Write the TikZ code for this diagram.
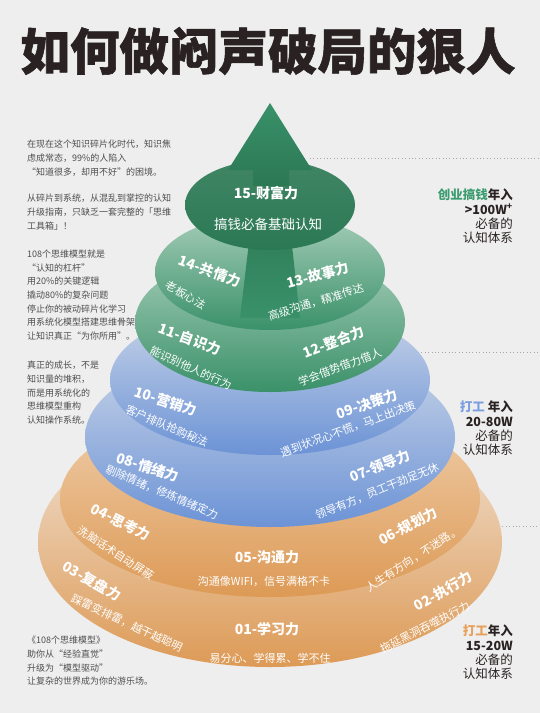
\documentclass[tikz,border=0pt]{standalone}
\usepackage{fontspec}
\newfontfamily\cjk{Noto Sans CJK SC}
\newfontfamily\cjkheavy{Noto Sans CJK SC}[BoldFeatures={FakeBold=1.2}]
\usetikzlibrary{positioning}

\definecolor{bgc}{HTML}{EEEEEE}
\definecolor{ink}{HTML}{2A2222}
\definecolor{txtg}{HTML}{4E4E4E}
\definecolor{grnD}{HTML}{2B7854}
\definecolor{grnM}{HTML}{3A9169}
\definecolor{grnL}{HTML}{A6CDB9}
\definecolor{bluM}{HTML}{6C93D6}
\definecolor{bluL}{HTML}{CBD6E8}
\definecolor{orgM}{HTML}{DD9A56}
\definecolor{orgL}{HTML}{F0D0AE}
\definecolor{orgP}{HTML}{F1E5D9}
\definecolor{labG}{HTML}{3C9C70}
\definecolor{labB}{HTML}{7B9EE0}
\definecolor{labO}{HTML}{E8A059}

\tikzset{
  note/.style={font=\cjk\fontsize{9}{13.6}\selectfont, text=txtg, align=left,
    anchor=north west, inner sep=0pt},
  tagbox/.style={font=\cjk\bfseries\fontsize{12.5}{14.2}\selectfont, text=ink,
    align=right, anchor=north east, inner sep=0pt},
  lvl/.style={font=\cjk\bfseries\fontsize{14}{14}\selectfont, text=white, inner sep=0pt},
  sub/.style={font=\cjk\fontsize{11}{11}\selectfont, text=white, inner sep=0pt},
  dotline/.style={gray!70, line width=0.8pt, dash pattern=on 0.8pt off 2.6pt},
}

\begin{document}
\begin{tikzpicture}[x=1pt, y=-1pt]
\useasboundingbox[fill=bgc] (0,0) rectangle (540,713);

% title
\node[font=\cjkheavy\bfseries\fontsize{49.5}{49.5}\selectfont, text=ink] (title) at (268,51) {如何做闷声破局的狠人};

% left notes
\node[note] (intro) at (27,140) {在现在这个知识碎片化时代，知识焦\\虑成常态，99\%的人陷入\\“知道很多，却用不好”的困境。};
\node[note] (guide) at (27,194) {从碎片到系统，从混乱到掌控的认知\\升级指南，只缺乏一套完整的「思维\\工具箱」！};
\node[note] (lever) at (27,250) {108个思维模型就是\\“认知的杠杆”\\用20\%的关键逻辑\\撬动80\%的复杂问题\\停止你的被动碎片化学习\\用系统化模型搭建思维骨架\\让知识真正“为你所用”。};
\node[note] (growth) at (27,361) {真正的成长，不是\\知识量的堆积，\\而是用系统化的\\思维模型重构\\认知操作系统。};
\node[note] (book) at (27,636) {《108个思维模型》\\助你从“经验直觉”\\升级为“模型驱动”\\让复杂的世界成为你的游乐场。};

% dotted guides
\coordinate (g1a) at (310,158); \coordinate (g1b) at (540,158);
\coordinate (g2a) at (384,352); \coordinate (g2b) at (540,352);
\coordinate (g3a) at (482,526); \coordinate (g3b) at (540,526);
\draw[dotline] (g1a) -- (g1b);
\draw[dotline] (g2a) -- (g2b);
\draw[dotline] (g3a) -- (g3b);

% right tags
\node[tagbox] (boss) at (513,189) {\textcolor{labG}{创业搞钱}年入\\>100W\textsuperscript{+}\\{\mdseries 必备的}\\{\mdseries 认知体系}};
\node[tagbox] (staffhi) at (513,401) {\textcolor{labB}{打工} 年入\\20-80W\\{\mdseries 必备的}\\{\mdseries 认知体系}};
\node[tagbox] (stafflo) at (513,625) {\textcolor{labO}{打工}年入\\15-20W\\{\mdseries 必备的}\\{\mdseries 认知体系}};

% discs, bottom to top
\shade[top color=orgP, middle color=orgL, bottom color=orgM] (270,542) ellipse [x radius=232pt, y radius=125pt];
\foreach \cy/\rx/\ry/\tc/\bc in {499/210/98/orgL/orgM,
    437/185/90/bluL/bluM, 380/160/75/bluL/bluM, 322/135/70/grnL/grnM, 272/115/58/grnL/grnM}
  \shade[top color=\tc, middle color=\tc!45!\bc, bottom color=\bc]
    (270,\cy) ellipse [x radius=\rx pt, y radius=\ry pt];

% arrow shaft between discs
\shade[top color=grnD, bottom color=grnM] (254,200) -- (287,200) -- (300,318) -- (240,318) -- cycle;
\shade[top color=grnD!90!white, bottom color=grnD] (270,205) ellipse [x radius=85pt, y radius=45pt];
% arrow head
\shade[top color=grnM, bottom color=grnD] (270,103) -- (312,170) -- (289,170) -- (289,186)
  -- (253,186) -- (253,170) -- (228,170) -- cycle;

% level labels
\node[lvl] (l15) at (266,193) {15-财富力};
\node[sub, font=\cjk\fontsize{13.5}{13.5}\selectfont] (s15) at (268,224) {搞钱必备基础认知};
\node[lvl, rotate=-20] (l14) at (210,271) {14-共情力};
\node[sub, rotate=-30] (s14) at (186,295) {老板心法};
\node[lvl, rotate=15] (l13) at (318,275) {13-故事力};
\node[sub, rotate=17] (s13) at (316,302) {高级沟通，精准传达};
\node[lvl, rotate=-20] (l11) at (190,339) {11-自识力};
\node[sub, rotate=-24] (s11) at (191,368) {能识别他人的行为};
\node[lvl, rotate=21] (l12) at (334,342) {12-整合力};
\node[sub, rotate=20] (s12) at (340,367) {学会借势借力借人};
\node[lvl, rotate=-18] (l10) at (166,401) {10-营销力};
\node[sub, rotate=-23] (s10) at (167,426) {客户排队抢购秘法};
\node[lvl, rotate=18] (l09) at (367,404) {09-决策力};
\node[sub, rotate=20] (s09) at (348,429) {遇到状况心不慌，马上出决策};
\node[lvl, rotate=-18] (l08) at (148,467) {08-情绪力};
\node[sub, rotate=-23] (s08) at (162,492) {剔除情绪，修炼情绪定力};
\node[lvl, rotate=22] (l07) at (380,466) {07-领导力};
\node[sub, rotate=22] (s07) at (377,491) {领导有方，员工干劲足无休};
\node[lvl, rotate=-27] (l04) at (121,522) {04-思考力};
\node[sub, rotate=-33] (s04) at (116,553) {洗脑话术自动屏蔽};
\node[lvl] (l05) at (267,557) {05-沟通力};
\node[sub] (s05) at (264,581) {沟通像WIFI，信号满格不卡};
\node[lvl, rotate=28] (l06) at (408,526) {06-规划力};
\node[sub, rotate=33] (s06) at (413,559) {人生有方向，不迷路。};
\node[lvl, rotate=-30] (l03) at (92,581) {03-复盘力};
\node[sub, rotate=-25] (s03) at (127,623) {踩雷变排雷，越干越聪明};
\node[lvl] (l01) at (267,629) {01-学习力};
\node[sub] (s01) at (270,658) {易分心、学得累、学不住};
\node[lvl, rotate=30] (l02) at (443,591) {02-执行力};
\node[sub, rotate=27] (s02) at (425,627) {拖延黑洞吞噬执行力};
\end{tikzpicture}
\end{document}
